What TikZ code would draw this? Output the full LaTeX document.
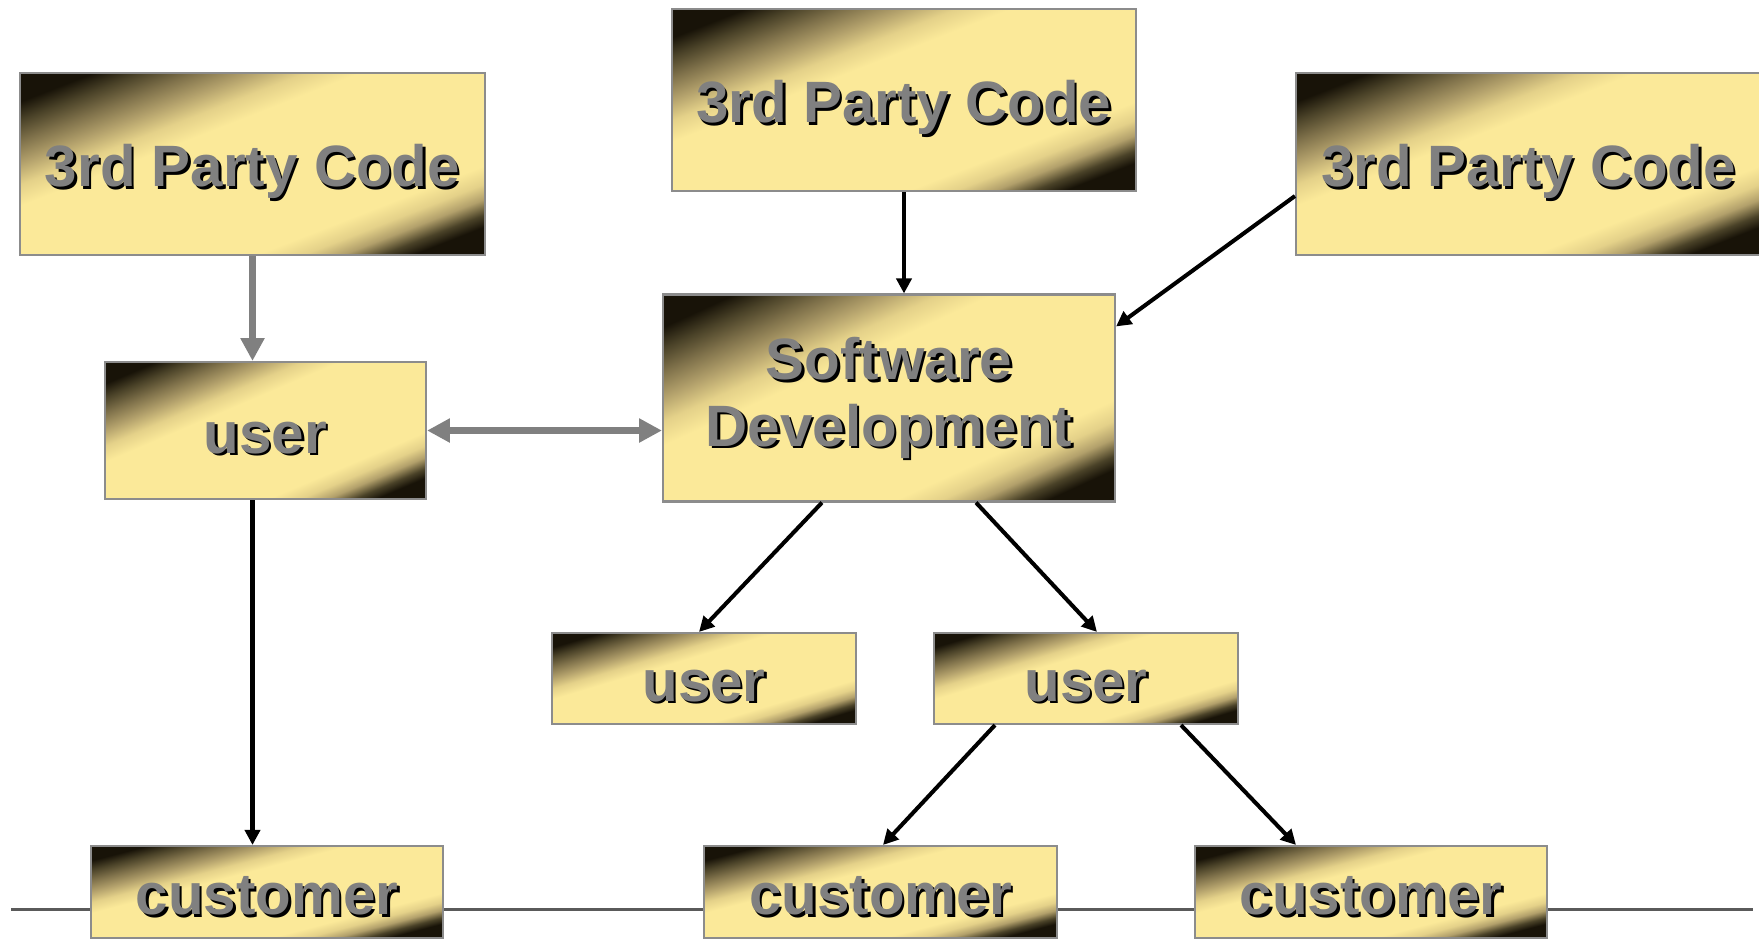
\documentclass[tikz,border=0pt]{standalone}
\usepackage{fontspec}
\setmainfont{Liberation Sans}
\usepackage{tikz}
\usetikzlibrary{calc, positioning, arrows.meta, backgrounds}
\definecolor{gold0}{RGB}{24,19,8}
\definecolor{gold1}{RGB}{74,66,40}
\definecolor{gold2}{RGB}{128,114,75}
\definecolor{gold3}{RGB}{178,160,107}
\definecolor{gold4}{RGB}{228,209,137}
\definecolor{gold5}{RGB}{251,233,153}
\definecolor{txtgray}{RGB}{128,128,128}
\definecolor{edgegray}{RGB}{140,140,140}
\definecolor{rulegray}{RGB}{90,90,90}
\pgfdeclarehorizontalshading{goldbox}{100bp}{color(0bp)=(gold0); color(20bp)=(gold0); color(23.6bp)=(gold1); color(27.8bp)=(gold2); color(32bp)=(gold3); color(36.2bp)=(gold4); color(40.4bp)=(gold5); color(68bp)=(gold5); color(71.6bp)=(gold4); color(74.6bp)=(gold3); color(77.6bp)=(gold1); color(80bp)=(gold0); color(100bp)=(gold0)}
\newcommand{\shtxt}[1]{\rlap{\raisebox{-0.7pt}[0pt][0pt]{\hspace{0.7pt}\color{black}#1}}{\color{txtgray}#1}}
\tikzstyle{box}=[draw=edgegray, line width=0.6pt, inner sep=0pt, font=\fontsize{16.6}{19}\selectfont\bfseries]
\tikzstyle{oneline}=[text height=16pt, text depth=3pt]
\tikzstyle{link}=[line width=1.15pt, ->]
\tikzstyle{glink}=[line width=2pt, draw=txtgray, -{Triangle[length=6.5pt,width=6.5pt]}]
\tikzset{>={Triangle[length=4.3pt,width=4.3pt]}}

\begin{document}
\begin{tikzpicture}[x=0.1mm, y=-0.1mm]
\useasboundingbox (0,0) rectangle (1759,939);
\clip (0,0) rectangle (1759,939);
% the ``upper'' three boxes
\node[box, oneline, minimum width=46.5mm, minimum height=18.2mm] (tpL) at (252.5,164) {\shtxt{3rd Party Code}};
\node[box, oneline, minimum width=46.4mm, minimum height=18.2mm] (tpC) at (904,100) {\shtxt{3rd Party Code}};
\node[box, oneline, minimum width=46.5mm, minimum height=18.2mm] (tpR) at (1528.5,164) {\shtxt{3rd Party Code}};
% the ``middle'' boxes
\node[box, align=center, minimum width=45.2mm, minimum height=20.7mm] (sd) at (889,398) {\shtxt{Software}\\\shtxt{Development}};
\node[box, oneline, minimum width=32.1mm, minimum height=13.7mm] (usrL) at (265.5,430.5) {\shtxt{user}};
\node[box, oneline, minimum width=30.4mm, minimum height=9.1mm] (usrM) at (704,678.5) {\shtxt{user}};
\node[box, oneline, minimum width=30.4mm, minimum height=9.1mm] (usrR) at (1086,678.5) {\shtxt{user}};
% the ``lower'' three boxes
\node[box, oneline, minimum width=35.2mm, minimum height=9.2mm] (cusL) at (267,892) {\shtxt{customer}};
\node[box, oneline, minimum width=35.3mm, minimum height=9.2mm] (cusM) at (880.5,892) {\shtxt{customer}};
\node[box, oneline, minimum width=35.2mm, minimum height=9.2mm] (cusR) at (1371,892) {\shtxt{customer}};
% the base line and the box fillings
\begin{scope}[on background layer]
\coordinate (lnL) at (11,909);
\coordinate (lnR) at (1753,909);
\draw[rulegray, line width=0.85pt] (lnL) -- (lnR);
\foreach \n/\w/\h in {tpL/4.65/1.82, tpC/4.64/1.82, tpR/4.65/1.82, sd/4.52/2.07, usrL/3.21/1.37, usrM/3.04/0.91, usrR/3.04/0.91, cusL/3.52/0.92, cusM/3.53/0.92, cusR/3.52/0.92}
{
\begin{scope}[transform canvas={shift={(\n.center)}, xscale=\w, yscale=\h}]
\shade[shading=goldbox, shading angle=-45] (-5mm,-5mm) rectangle (5mm,5mm);
\end{scope}
}
\end{scope}
% the arrows
\draw[glink] (tpL.south) -- (tpL.south |- usrL.north);
\draw[glink, {Triangle[length=6.5pt,width=6.5pt]}-{Triangle[length=6.5pt,width=6.5pt]}] (usrL.east) -- (usrL.east -| sd.west);
\draw[link] (tpC.south) -- (tpC.south |- sd.north);
\draw[link] ([yshift=-3.2mm]tpR.west) -- ([yshift=-3.3mm]sd.north east);
\draw[link] ([xshift=-6.7mm]sd.south) -- ([xshift=-0.5mm]usrM.north);
\draw[link] ([xshift=8.7mm]sd.south) -- ([xshift=1.1mm]usrR.north);
\draw[link] ([xshift=-9.1mm]usrR.south) -- ([xshift=0.25mm]cusM.north);
\draw[link] ([xshift=9.5mm]usrR.south) -- ([xshift=-7.5mm]cusR.north);
\draw[link] (tpL.south |- usrL.south) -- (tpL.south |- cusL.north);
\end{tikzpicture}
\end{document}
